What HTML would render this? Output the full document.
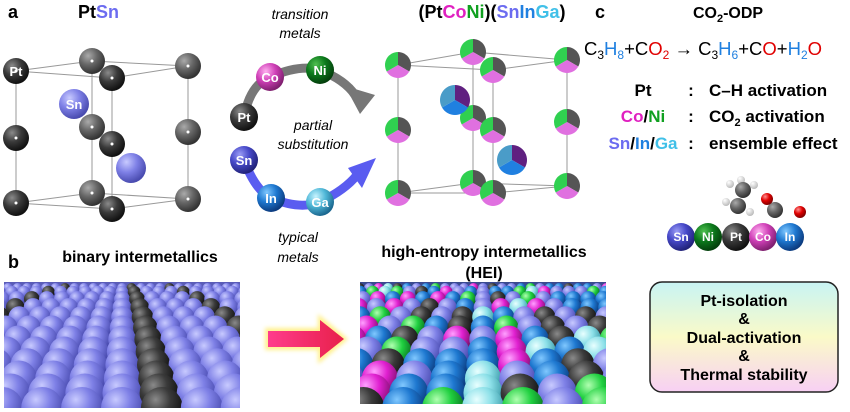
<!DOCTYPE html>
<html><head><meta charset="utf-8"><style>
html,body{margin:0;padding:0;background:#fff;width:850px;height:412px;overflow:hidden}
svg{display:block;font-family:"Liberation Sans",Arial,sans-serif}
.b{font-weight:bold}
</style></head><body>
<svg id="s" width="850" height="412" viewBox="0 0 850 412" xmlns="http://www.w3.org/2000/svg">
<defs>
<radialGradient id="gk" cx="35%" cy="30%" r="70%"><stop offset="0" stop-color="#8a8a8a"/><stop offset="0.5" stop-color="#3a3a3a"/><stop offset="1" stop-color="#111"/></radialGradient>
<radialGradient id="gg" cx="35%" cy="30%" r="70%"><stop offset="0" stop-color="#aaa"/><stop offset="0.5" stop-color="#666"/><stop offset="1" stop-color="#333"/></radialGradient>
<radialGradient id="gs" cx="35%" cy="30%" r="70%"><stop offset="0" stop-color="#c8caff"/><stop offset="0.5" stop-color="#7e80e6"/><stop offset="1" stop-color="#4a4cb0"/></radialGradient>
<radialGradient id="gS2" cx="35%" cy="30%" r="70%"><stop offset="0" stop-color="#9a9cf5"/><stop offset="0.5" stop-color="#4648c8"/><stop offset="1" stop-color="#22237a"/></radialGradient>
<radialGradient id="gc" cx="35%" cy="30%" r="70%"><stop offset="0" stop-color="#ffb0f0"/><stop offset="0.5" stop-color="#d040b8"/><stop offset="1" stop-color="#802070"/></radialGradient>
<radialGradient id="gn" cx="35%" cy="30%" r="70%"><stop offset="0" stop-color="#50c050"/><stop offset="0.5" stop-color="#0c7a1c"/><stop offset="1" stop-color="#04400c"/></radialGradient>
<radialGradient id="gi" cx="35%" cy="30%" r="70%"><stop offset="0" stop-color="#80c8ff"/><stop offset="0.5" stop-color="#1e78d0"/><stop offset="1" stop-color="#0c3c80"/></radialGradient>
<radialGradient id="ga" cx="35%" cy="30%" r="70%"><stop offset="0" stop-color="#c8f4ff"/><stop offset="0.5" stop-color="#50b8d8"/><stop offset="1" stop-color="#1c6890"/></radialGradient>
<radialGradient id="gt" cx="35%" cy="30%" r="70%"><stop offset="0" stop-color="#e8ffff"/><stop offset="0.5" stop-color="#8ce0e8"/><stop offset="1" stop-color="#3a9aa8"/></radialGradient>
<radialGradient id="gG" cx="35%" cy="30%" r="70%"><stop offset="0" stop-color="#b0ffb0"/><stop offset="0.5" stop-color="#20d040"/><stop offset="1" stop-color="#0a7020"/></radialGradient>
<radialGradient id="gM" cx="35%" cy="30%" r="70%"><stop offset="0" stop-color="#ffa0ff"/><stop offset="0.5" stop-color="#e020d0"/><stop offset="1" stop-color="#801070"/></radialGradient>
<radialGradient id="gr" cx="35%" cy="30%" r="70%"><stop offset="0" stop-color="#ff9090"/><stop offset="0.5" stop-color="#e00000"/><stop offset="1" stop-color="#800000"/></radialGradient>
<radialGradient id="gw" cx="35%" cy="30%" r="70%"><stop offset="0" stop-color="#fff"/><stop offset="1" stop-color="#bbb"/></radialGradient>
<linearGradient id="box" x1="0" y1="0" x2="0" y2="1"><stop offset="0" stop-color="#c8f4f4"/><stop offset="0.5" stop-color="#fafac8"/><stop offset="1" stop-color="#f8d0f4"/></linearGradient>
<linearGradient id="arr" x1="0" y1="0" x2="1" y2="0"><stop offset="0" stop-color="#ff3c8c"/><stop offset="1" stop-color="#e8204a"/></linearGradient>
<clipPath id="c1"><rect x="4" y="282" width="236" height="126"/></clipPath>
<clipPath id="c2"><rect x="360" y="282" width="246" height="122"/></clipPath>
<filter id="blur"><feGaussianBlur stdDeviation="2"/></filter>
</defs>

<text x="8" y="18" class="b" font-size="18">a</text>
<text x="78" y="18" class="b" font-size="18">Pt<tspan fill="#6c6cf0">Sn</tspan></text>
<text x="300" y="19" font-size="14" font-style="italic" text-anchor="middle">transition</text>
<text x="300" y="38" font-size="14" font-style="italic" text-anchor="middle">metals</text>
<text x="313" y="130" font-size="14" font-style="italic" text-anchor="middle">partial</text>
<text x="313" y="149" font-size="14" font-style="italic" text-anchor="middle">substitution</text>
<text x="298" y="242" font-size="14" font-style="italic" text-anchor="middle">typical</text>
<text x="298" y="262" font-size="14" font-style="italic" text-anchor="middle">metals</text>
<text x="492" y="18" class="b" font-size="18" text-anchor="middle">(Pt<tspan fill="#e020c0">Co</tspan><tspan fill="#10a020">Ni</tspan>)(<tspan fill="#6c6cf0">Sn</tspan><tspan fill="#2080e0">In</tspan><tspan fill="#40c0e8">Ga</tspan>)</text>

<g stroke="#999" stroke-width="1" fill="none">
<path d="M16,71 L92,61 L188,66 L112,78 Z M16,203 L92,193 L188,199 L112,209 Z M16,71V203 M92,61V193 M188,66V199 M112,78V209"/>
<path d="M398,65 L473,52 L567,60 L493,70 Z M398,193 L473,183 L567,186 L493,193 Z M398,65V193 M473,52V183 M567,60V186 M493,70V193"/>
</g>
<g id="ptsn"></g>
<g id="hei"></g>

<path d="M244,117 Q250,85 270,77 Q300,64 320,70 Q345,80 355,95" stroke="#777" stroke-width="9" fill="none"/>
<polygon points="345,86 375,95 360,114" fill="#777"/>
<path d="M244,160 Q255,190 271,198 Q300,210 320,202 Q345,190 357,175" stroke="#5a5cf0" stroke-width="9" fill="none"/>
<polygon points="348,168 376,158 362,188" fill="#5a5cf0"/>
<g font-size="13" font-weight="bold" fill="#fff" text-anchor="middle">
<circle cx="270" cy="77" r="14" fill="url(#gc)"/><text x="270" y="82">Co</text>
<circle cx="320" cy="70" r="14" fill="url(#gn)"/><text x="320" y="75">Ni</text>
<circle cx="244" cy="117" r="14" fill="url(#gk)"/><text x="244" y="122">Pt</text>
<circle cx="244" cy="160" r="14" fill="url(#gS2)"/><text x="244" y="165">Sn</text>
<circle cx="271" cy="198" r="14" fill="url(#gi)"/><text x="271" y="203">In</text>
<circle cx="320" cy="202" r="14" fill="url(#ga)"/><text x="320" y="207">Ga</text>
</g>

<text x="595" y="18" class="b" font-size="18">c</text>
<text x="728" y="18" class="b" font-size="16" text-anchor="middle">CO<tspan font-size="11" dy="4">2</tspan><tspan dy="-4">-ODP</tspan></text>
<text x="703" y="55" font-size="18.5" text-anchor="middle">C<tspan font-size="12" dy="4">3</tspan><tspan dy="-4" fill="#2080e0">H</tspan><tspan font-size="12" dy="4" fill="#2080e0">8</tspan><tspan dy="-4">+C</tspan><tspan fill="#e00000">O</tspan><tspan font-size="12" dy="4" fill="#e00000">2</tspan><tspan dy="-4"> → C</tspan><tspan font-size="12" dy="4">3</tspan><tspan dy="-4" fill="#2080e0">H</tspan><tspan font-size="12" dy="4" fill="#2080e0">6</tspan><tspan dy="-4">+C</tspan><tspan fill="#e00000">O</tspan><tspan>+</tspan><tspan fill="#2080e0">H</tspan><tspan font-size="12" dy="4" fill="#2080e0">2</tspan><tspan dy="-4" fill="#e00000">O</tspan></text>
<g class="b" font-size="17">
<text x="643" y="96" text-anchor="middle">Pt</text>
<text x="691" y="96" text-anchor="middle">:</text><text x="709" y="96">C–H activation</text>
<text x="643" y="122" text-anchor="middle"><tspan fill="#e020c0">Co</tspan>/<tspan fill="#10a020">Ni</tspan></text>
<text x="691" y="122" text-anchor="middle">:</text><text x="709" y="122">CO<tspan font-size="11" dy="4">2</tspan><tspan dy="-4"> activation</tspan></text>
<text x="643" y="149" text-anchor="middle"><tspan fill="#6c6cf0">Sn</tspan>/<tspan fill="#2080e0">In</tspan>/<tspan fill="#40c0e8">Ga</tspan></text>
<text x="691" y="149" text-anchor="middle">:</text><text x="709" y="149">ensemble effect</text>
</g>
<g>
<circle cx="741" cy="180" r="4" fill="url(#gw)"/><circle cx="730" cy="184" r="4" fill="url(#gw)"/><circle cx="754" cy="185" r="4" fill="url(#gw)"/>
<circle cx="743" cy="190" r="8" fill="url(#gg)"/>
<circle cx="726" cy="202" r="4" fill="url(#gw)"/><circle cx="750" cy="212" r="4" fill="url(#gw)"/>
<circle cx="738" cy="206" r="8" fill="url(#gg)"/>
<circle cx="775" cy="210" r="8" fill="url(#gg)"/>
<circle cx="767" cy="199" r="6" fill="url(#gr)"/><circle cx="800" cy="212" r="6" fill="url(#gr)"/>
</g>
<g font-size="12" font-weight="bold" fill="#fff" text-anchor="middle">
<circle cx="681" cy="237" r="14" fill="url(#gS2)"/><text x="681" y="241">Sn</text>
<circle cx="708" cy="237" r="14" fill="url(#gn)"/><text x="708" y="241">Ni</text>
<circle cx="736" cy="237" r="14" fill="url(#gk)"/><text x="736" y="241">Pt</text>
<circle cx="763" cy="237" r="14" fill="url(#gc)"/><text x="763" y="241">Co</text>
<circle cx="790" cy="237" r="14" fill="url(#gi)"/><text x="790" y="241">In</text>
</g>
<rect x="650" y="282" width="188" height="110" rx="12" fill="url(#box)" stroke="#222" stroke-width="1.5"/>
<g class="b" font-size="16" text-anchor="middle">
<text x="744" y="306">Pt-isolation</text>
<text x="744" y="324">&amp;</text>
<text x="744" y="343">Dual-activation</text>
<text x="744" y="361">&amp;</text>
<text x="744" y="380">Thermal stability</text>
</g>

<text x="8" y="268" class="b" font-size="18">b</text>
<text x="140" y="262" class="b" font-size="16" text-anchor="middle">binary intermetallics</text>
<text x="484" y="257" class="b" font-size="16" text-anchor="middle">high-entropy intermetallics</text>
<text x="484" y="278" class="b" font-size="16" text-anchor="middle">(HEI)</text>
<polygon points="265,328 318,328 318,314 348,339 318,364 318,350 265,350" fill="#fff08c" filter="url(#blur)"/>
<polygon points="268,331 320,331 320,320 344,339 320,358 320,347 268,347" fill="url(#arr)"/>
<g id="surf1" clip-path="url(#c1)"><rect x="4" y="282" width="236" height="126" fill="#5a5cb8"/></g>
<g id="surf2" clip-path="url(#c2)"><rect x="360" y="282" width="246" height="122" fill="#3a4a90"/></g>
</svg>
<script>
var NS="http://www.w3.org/2000/svg";
function C(p,x,y,r,f){var c=document.createElementNS(NS,"circle");c.setAttribute("cx",x);c.setAttribute("cy",y);c.setAttribute("r",r);c.setAttribute("fill",f);p.appendChild(c);return c;}
var g=document.getElementById("ptsn");
[[92,61,"gg"],[188,66,"gg"],[92,127,"gg"],[188,132,"gg"],[16,138,"gk"],[92,193,"gg"],[16,203,"gk"],[188,199,"gg"],[112,78,"gk"],[112,144,"gk"],[112,209,"gk"],[16,71,"gk"]].forEach(function(a){C(g,a[0],a[1],13,"url(#"+a[2]+")");C(g,a[0],a[1],1.5,"#fff");});
C(g,74,104,15,"url(#gs)");C(g,131,168,15,"url(#gs)");
var t=document.createElementNS(NS,"text");t.setAttribute("x",16);t.setAttribute("y",76);t.setAttribute("font-size","13");t.setAttribute("font-weight","bold");t.setAttribute("fill","#fff");t.setAttribute("text-anchor","middle");t.textContent="Pt";g.appendChild(t);
t=t.cloneNode();t.setAttribute("x",74);t.setAttribute("y",109);t.textContent="Sn";g.appendChild(t);
var h=document.getElementById("hei");
function sec(x,y,r,a0,a1,col){var p=document.createElementNS(NS,"path");var x0=x+r*Math.cos(a0),y0=y+r*Math.sin(a0),x1=x+r*Math.cos(a1),y1=y+r*Math.sin(a1);p.setAttribute("d","M"+x+","+y+"L"+x0+","+y0+"A"+r+","+r+" 0 0 1 "+x1+","+y1+"Z");p.setAttribute("fill",col);h.appendChild(p);}
function tri(x,y,r,c){sec(x,y,r,-Math.PI/2,Math.PI/6,c[0]);sec(x,y,r,Math.PI/6,5*Math.PI/6,c[1]);sec(x,y,r,5*Math.PI/6,3*Math.PI/2,c[2]);}
[[473,52],[567,60],[473,118],[567,122],[398,65],[398,130],[398,193],[473,183],[567,186],[493,70],[493,130],[493,193]].forEach(function(a){tri(a[0],a[1],13,["#555","#e070e0","#30d050"]);});
tri(455,100,15,["#602080","#2080e0","#4a9cc8"]);tri(512,160,15,["#602080","#2080e0","#4a9cc8"]);
function surf(id,x0,x1,colf){var p=document.getElementById(id);var cx=(x0+x1)/2;
 for(var k=0;k<12;k++){var f=k/11;var y=288+Math.pow(f,1.4)*120;var r=5+f*16;var sp=r*1.9;
  var n=Math.ceil((x1-x0)/sp/2)+2;
  for(var j=-n;j<=n;j++){var x=cx+j*sp;C(p,x,y,r,colf(j,k));}}}
surf("surf1",4,240,function(j,k){return (j==-6||j==1||j==5)?"url(#gk)":"url(#gs)";});
var pal=["url(#gs)","url(#gi)","url(#gt)","url(#gk)","url(#gG)","url(#gM)"];
var seed=7;function rnd(){seed=(seed*9301+49297)%233280;return seed/233280;}
surf("surf2",360,606,function(j,k){var m=((j%2)+2)%2;if(m==0)return pal[[0,0,1,2,0,1][Math.floor(rnd()*6)]];return pal[[3,4,5,0,3,1][Math.floor(rnd()*6)]];});
</script>
</body></html>
